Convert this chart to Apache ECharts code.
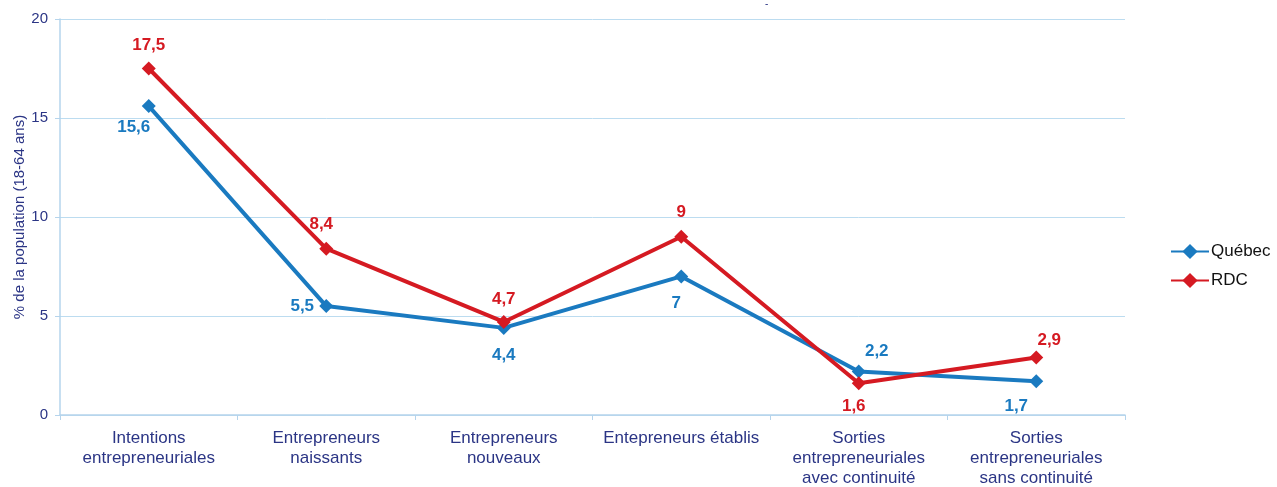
<!DOCTYPE html>
<html><head><meta charset="utf-8">
<script src="https://cdn.jsdelivr.net/npm/echarts@6/dist/echarts.min.js"></script>
<style>html,body{margin:0;padding:0;background:#fff}#c{width:1277px;height:487px}</style>
</head><body><div id="c"></div>
<script>
const categories = ["Intentions\nentrepreneuriales","Entrepreneurs\nnaissants","Entrepreneurs\nnouveaux","Entepreneurs établis","Sorties\nentrepreneuriales\navec continuité","Sorties\nentrepreneuriales\nsans continuité"];
const quebec = [15.6, 5.5, 4.4, 7, 2.2, 1.7];
const rdc = [17.5, 8.4, 4.7, 9, 1.6, 2.9];
const yTicks = [0, 5, 10, 15, 20];

const qPos = [[-15, 21], [-24, 0], [0, 27], [-5, 27], [18, -20], [-20, 25]];
const rPos = [[0, -23], [-5, -24], [0, -23], [0, -24], [-5, 23], [13, -17]];
const BLUE = '#1a7ac0', RED = '#d51a22', NAVY = '#2b3585';
const FONT = 'Liberation Sans, Arial';

function mk(vals, offs, color) {
  return vals.map((v, i) => ({
    value: v,
    label: { show: true, position: 'inside', offset: offs[i], color: color,
      fontWeight: 'bold', fontSize: 17, fontFamily: FONT,
      formatter: p => String(p.value).replace('.', ',') }
  }));
}

const chart = echarts.init(document.getElementById('c'));
chart.setOption({
  animation: false,
  title: { text: '-', left: 760, top: -6, textStyle: { color: NAVY, fontSize: 10, fontWeight: 'normal' } },
  grid: { left: 60, right: 152, top: 19, bottom: 72, containLabel: false, outerBoundsMode: 'none' },
  legend: {
    orient: 'vertical', left: 1165, top: 238, itemGap: 12, itemWidth: 38, itemHeight: 19,
    textStyle: { color: '#111', fontSize: 17, fontFamily: FONT, padding: [0, 0, 0, -3] },
    data: ['Québec', 'RDC']
  },
  xAxis: {
    type: 'category', data: categories, boundaryGap: true,
    axisLine: { lineStyle: { color: '#b5d4ec', width: 1.5 } },
    axisTick: { show: true, length: 5, lineStyle: { color: '#b5d4ec' } },
    axisLabel: { color: NAVY, fontSize: 17, fontFamily: FONT, lineHeight: 20, margin: 13, interval: 0 }
  },
  yAxis: {
    type: 'value', min: 0, max: 20, interval: 5,
    name: '% de la population (18-64 ans)', nameLocation: 'middle', nameGap: 33, nameMoveOverlap: false,
    nameTextStyle: { color: NAVY, fontSize: 15, fontFamily: FONT },
    axisLine: { show: true, lineStyle: { color: '#b5d4ec', width: 1.5 } },
    axisTick: { show: true, length: 5, lineStyle: { color: '#b5d4ec' } },
    splitLine: { lineStyle: { color: '#bcdcf0', width: 1 } },
    axisLabel: { color: NAVY, fontSize: 15, fontFamily: FONT, margin: 12,
      formatter: v => yTicks.includes(v) ? String(v) : '' }
  },
  series: [
    { name: 'Québec', type: 'line', data: mk(quebec, qPos, BLUE), color: BLUE,
      lineStyle: { width: 4, color: BLUE }, symbol: 'diamond', symbolSize: 14,
      itemStyle: { color: BLUE } },
    { name: 'RDC', type: 'line', data: mk(rdc, rPos, RED), color: RED,
      lineStyle: { width: 4, color: RED }, symbol: 'diamond', symbolSize: 14,
      itemStyle: { color: RED } }
  ]
});
</script></body></html>
